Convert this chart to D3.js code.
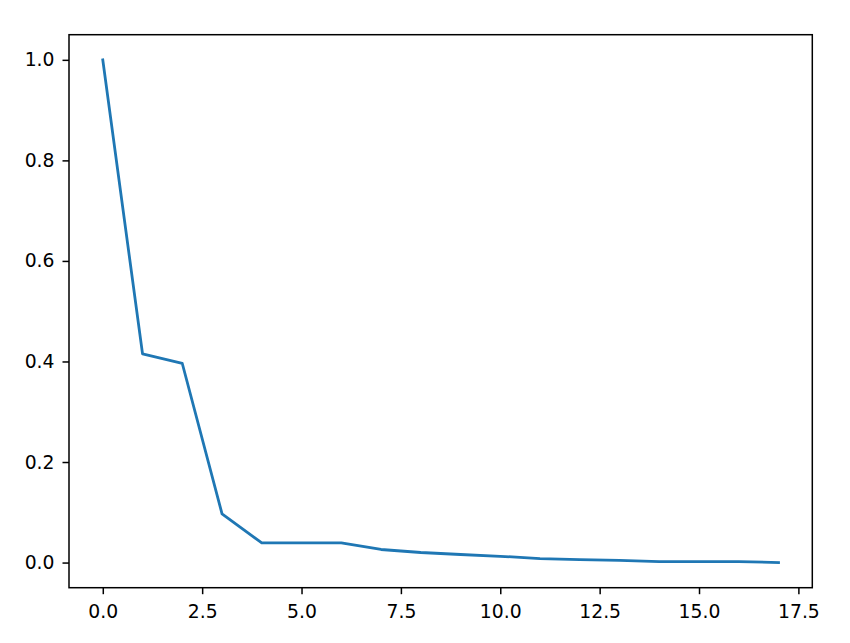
<!DOCTYPE html>
<html>
<head>
<meta charset="utf-8">
<script src="https://cdn.jsdelivr.net/npm/d3@7"></script>
<style>
  html, body { margin: 0; padding: 0; background: #fff; }
  svg { display: block; }
  text { font-family: "DejaVu Sans", sans-serif; }
</style>
</head>
<body>
<svg id="chart" width="850" height="643"></svg>
<script>
const xValues = [0, 1, 2, 3, 4, 5, 6, 7, 8, 9, 10, 11, 12, 13, 14, 15, 16, 17];
const yValues = [1.0, 0.415, 0.396, 0.097, 0.039, 0.039, 0.039, 0.026, 0.020, 0.016, 0.0125, 0.008, 0.006, 0.0045, 0.002, 0.002, 0.002, 0.0];
const xTicks = [0, 2.5, 5, 7.5, 10, 12.5, 15, 17.5];
const yTicks = [0, 0.2, 0.4, 0.6, 0.8, 1.0];

const W = 850, H = 643;
const m = { left: 69, right: 37.7, top: 34.7, bottom: 55.3 };
const svg = d3.select("#chart");

const x = d3.scaleLinear().domain([-0.85, 17.85]).range([m.left, W - m.right]);
const y = d3.scaleLinear().domain([-0.05, 1.05]).range([H - m.bottom, m.top]);

const tickLen = 6.5, fontSize = 18.8;

// x axis
const xAxis = svg.append("g")
  .attr("transform", `translate(0,${H - m.bottom})`)
  .call(d3.axisBottom(x).tickValues(xTicks).tickFormat(d3.format(".1f")).tickSize(tickLen).tickPadding(10));
// y axis
const yAxis = svg.append("g")
  .attr("transform", `translate(${m.left},0)`)
  .call(d3.axisLeft(y).tickValues(yTicks).tickFormat(d3.format(".1f")).tickSize(tickLen).tickPadding(8));

[xAxis, yAxis].forEach(g => {
  g.select(".domain").remove();
  g.selectAll(".tick line").attr("stroke", "#000").attr("stroke-width", 1.5);
  g.selectAll(".tick text").attr("fill", "#000").attr("font-size", fontSize)
    .attr("font-family", "DejaVu Sans, sans-serif");
});

// line
const line = d3.line().x((d, i) => x(xValues[i])).y(d => y(d));
svg.append("path")
  .datum(yValues)
  .attr("d", line)
  .attr("fill", "none")
  .attr("stroke", "#1f77b4")
  .attr("stroke-width", 2.8)
  .attr("stroke-linejoin", "round")
  .attr("stroke-linecap", "square");

// frame
svg.append("rect")
  .attr("x", m.left).attr("y", m.top)
  .attr("width", W - m.left - m.right).attr("height", H - m.top - m.bottom)
  .attr("fill", "none").attr("stroke", "#000").attr("stroke-width", 1.5);
</script>
</body>
</html>
